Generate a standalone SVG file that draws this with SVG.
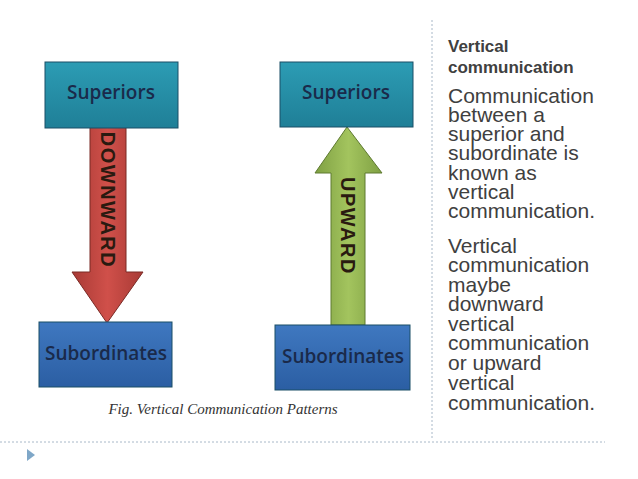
<svg xmlns="http://www.w3.org/2000/svg" width="638" height="479" viewBox="0 0 638 479">
<defs>
<linearGradient id="teal" x1="0" y1="0" x2="0" y2="1"><stop offset="0" stop-color="#2c9cb4"/><stop offset="1" stop-color="#1f7f97"/></linearGradient>
<linearGradient id="blue" x1="0" y1="0" x2="0" y2="1"><stop offset="0" stop-color="#3f78c0"/><stop offset="1" stop-color="#2b5ea3"/></linearGradient>
<linearGradient id="red" x1="0" y1="0" x2="1" y2="0"><stop offset="0" stop-color="#a83a35"/><stop offset="0.5" stop-color="#d0504a"/><stop offset="1" stop-color="#a83a35"/></linearGradient>
<linearGradient id="green" x1="0" y1="0" x2="1" y2="0"><stop offset="0" stop-color="#7fa043"/><stop offset="0.5" stop-color="#a3c45e"/><stop offset="1" stop-color="#7fa043"/></linearGradient>
</defs>
<style>
.box{stroke:#1a4f66;stroke-width:1}
.lbl{font-family:"Open Sans","Liberation Sans",sans-serif;font-size:19px;fill:#1a2a4a;text-anchor:middle;font-weight:600}
.arw{font-family:"Liberation Sans",sans-serif;font-size:20px;font-weight:bold;fill:#2a1a10;text-anchor:middle;letter-spacing:1.5px}
.hd{font-family:"Liberation Sans",sans-serif;font-size:17px;font-weight:bold;fill:#404040}
.bd{font-family:"Liberation Sans",sans-serif;font-size:21px;fill:#404040}
.dot{stroke:#a8b8c8;stroke-width:1;stroke-dasharray:2 2;fill:none}
</style>
<rect width="638" height="479" fill="#fff"/>
<g id="connectors">
<polygon points="90,127 126,127 126,272 143,272 107,323 72,272 90,272" fill="url(#red)" stroke="#7a2a25"/>
<text class="arw" transform="translate(101,200) rotate(90)">DOWNWARD</text>
<polygon points="347,127 382,173 365,173 365,325 331,325 331,173 315,173" fill="url(#green)" stroke="#5e7a30"/>
<text class="arw" transform="translate(341,226) rotate(90)">UPWARD</text>
</g>
<g id="sup-left"><rect class="box" x="45" y="62" width="133" height="66" fill="url(#teal)"/><text class="lbl" x="111" y="99">Superiors</text></g>
<g id="sup-right"><rect class="box" x="280" y="62" width="133" height="65" fill="url(#teal)"/><text class="lbl" x="346" y="99">Superiors</text></g>
<g id="sub-left"><rect class="box" x="39" y="322" width="133" height="65" fill="url(#blue)"/><text class="lbl" x="106" y="360">Subordinates</text></g>
<g id="sub-right"><rect class="box" x="275" y="325" width="135" height="65" fill="url(#blue)"/><text class="lbl" x="343" y="363">Subordinates</text></g>
<text x="223" y="414" font-family="Liberation Serif,serif" font-size="15" font-style="italic" fill="#333" text-anchor="middle">Fig. Vertical Communication Patterns</text>
<line class="dot" x1="432" y1="20" x2="432" y2="440"/>
<line class="dot" x1="0" y1="442" x2="605" y2="442"/>
<polygon points="27,449 35,455 27,461" fill="#7fa7c8"/>
<text class="hd" x="448" y="52">Vertical</text>
<text class="hd" x="448" y="73">communication</text>
<text class="bd">
<tspan x="448" y="103">Communication</tspan>
<tspan x="448" y="122">between a</tspan>
<tspan x="448" y="141">superior and</tspan>
<tspan x="448" y="160">subordinate is</tspan>
<tspan x="448" y="180">known as</tspan>
<tspan x="448" y="199">vertical</tspan>
<tspan x="448" y="218">communication.</tspan>
<tspan x="448" y="253">Vertical</tspan>
<tspan x="448" y="272">communication</tspan>
<tspan x="448" y="292">maybe</tspan>
<tspan x="448" y="311">downward</tspan>
<tspan x="448" y="331">vertical</tspan>
<tspan x="448" y="350">communication</tspan>
<tspan x="448" y="370">or upward</tspan>
<tspan x="448" y="390">vertical</tspan>
<tspan x="448" y="410">communication.</tspan>
</text>
</svg>
